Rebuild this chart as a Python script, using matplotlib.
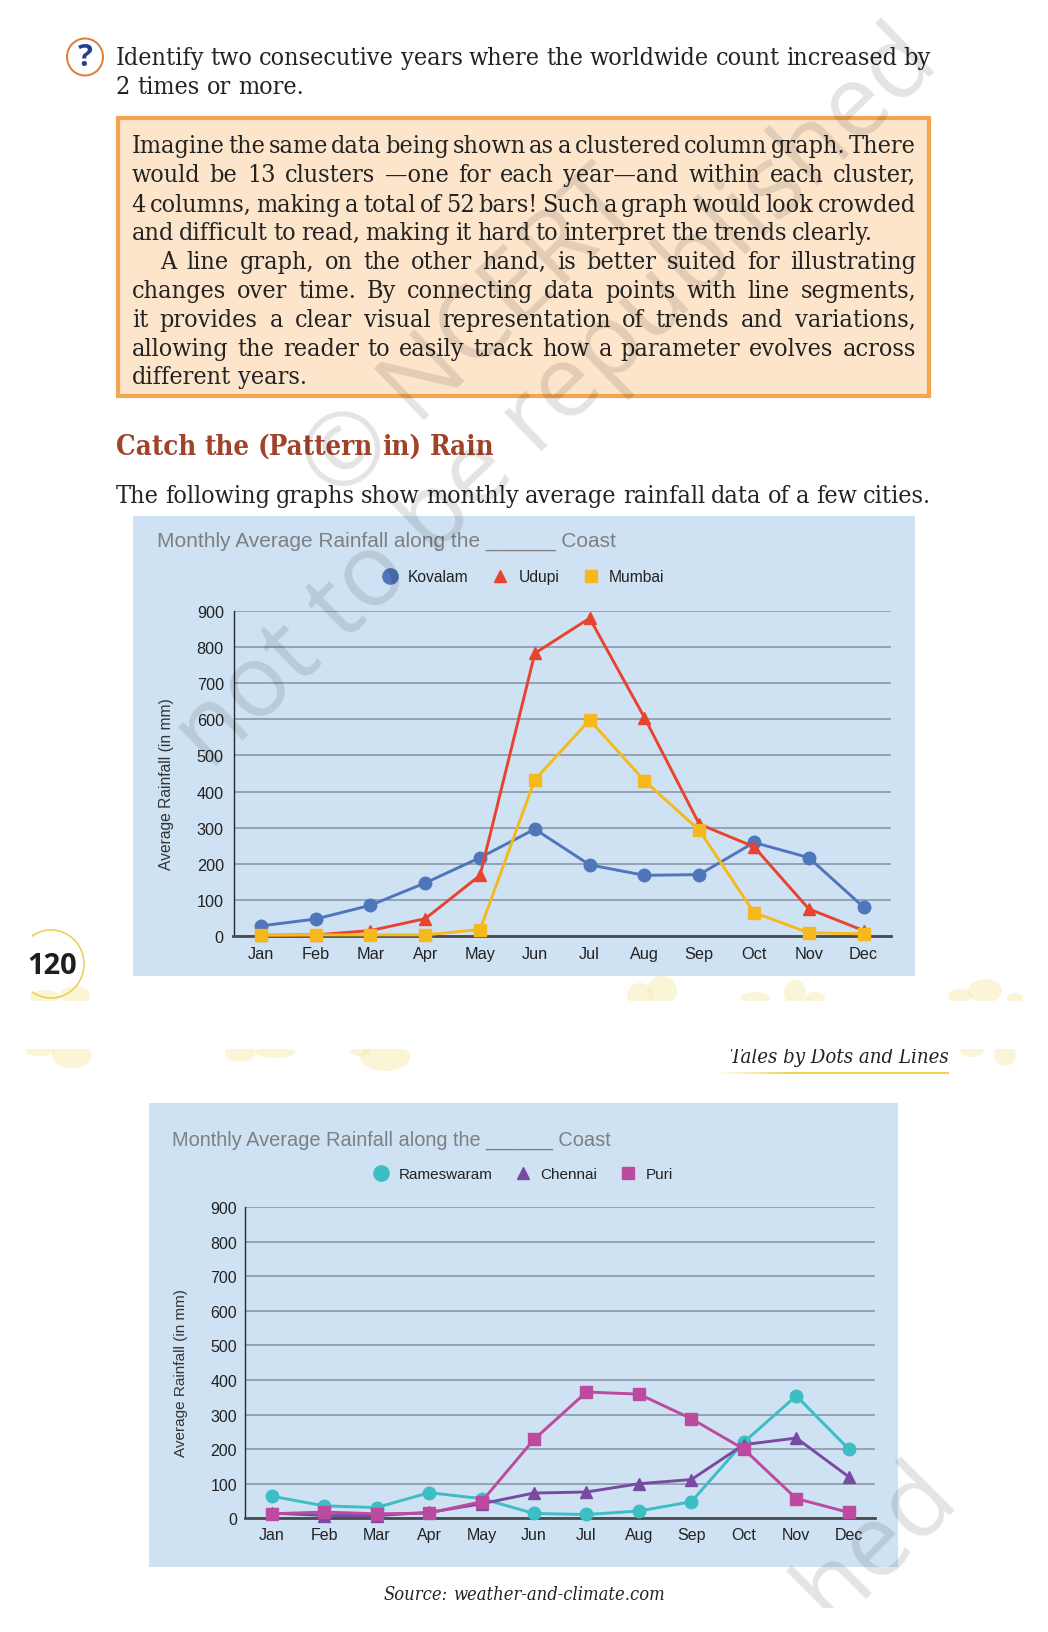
import numpy as np
import matplotlib
matplotlib.use("Agg")
import matplotlib.pyplot as plt
from matplotlib.lines import Line2D
from matplotlib.patches import Rectangle, Ellipse, Arc
from matplotlib.font_manager import FontProperties

W, H = 1048, 1633

months = ["Jan", "Feb", "Mar", "Apr", "May", "Jun", "Jul", "Aug", "Sep", "Oct", "Nov", "Dec"]
y_ticks = [0, 100, 200, 300, 400, 500, 600, 700, 800, 900]

kovalam = [28, 47, 85, 147, 217, 296, 197, 168, 170, 259, 217, 80]
udupi = [2, 3, 15, 48, 168, 783, 880, 605, 310, 247, 75, 15]
mumbai = [2, 3, 3, 3, 18, 433, 598, 430, 293, 65, 9, 6]

rameswaram = [64, 36, 31, 74, 57, 14, 11, 21, 48, 220, 354, 200]
chennai = [15, 8, 8, 17, 42, 73, 76, 100, 112, 213, 232, 120]
puri = [13, 18, 13, 15, 48, 228, 365, 359, 288, 200, 57, 17]

question = ["Identify two consecutive years where the worldwide count increased by",
            "2 times or more."]
box_lines = ["Imagine the same data being shown as a clustered column graph. There",
             "would be 13 clusters \u2014one for each year\u2014and within each cluster,",
             "4 columns, making a total of 52 bars! Such a graph would look crowded",
             "and difficult to read, making it hard to interpret the trends clearly.",
             "A line graph, on the other hand, is better suited for illustrating",
             "changes over time. By connecting data points with line segments,",
             "it provides a clear visual representation of trends and variations,",
             "allowing the reader to easily track how a parameter evolves across",
             "different years."]
box_baselines = [153, 182, 212, 240, 269, 298, 327, 356, 384]
box_right = [916, 916, 916, 873, 916, 916, 916, 916, None]

fig = plt.figure(figsize=(W / 100, H / 100), dpi=100, facecolor="white")
page = fig.add_axes([0, 0, 1, 1], zorder=0)
page.set_xlim(0, W)
page.set_ylim(H, 0)
page.axis("off")
renderer = fig.canvas.get_renderer()

SERIF = dict(family="DejaVu Serif", stretch="condensed")
BODY_PX = 25
TEXT_COL = "#222222"


def px(size):
    return size * 0.72


def put_line(text, x0, x1, y, size=BODY_PX, color=TEXT_COL, **kw):
    # word by word so that the gaps fill the line like the book does, x1=None leaves it ragged
    props = FontProperties(size=px(size), **SERIF, **kw)
    words = text.split(" ")
    widths = [renderer.get_text_width_height_descent(w, props, False)[0] for w in words]
    space = renderer.get_text_width_height_descent("n n", props, False)[0] \
        - renderer.get_text_width_height_descent("nn", props, False)[0]
    gap = (x1 - x0 - sum(widths)) / max(len(words) - 1, 1) if x1 else space
    x = x0
    for w, wd in zip(words, widths):
        page.text(x, y, w, fontproperties=props, color=color, va="baseline", ha="left")
        x += wd + gap


def draw_chart(panel, axes_box, series, title, title_xy, title_px, legend_xy, legend_px,
               ylabel_xy, tick_px, ypad, xpad):
    x0, y0, x1, y1 = panel
    page.add_patch(Rectangle((x0, y0), x1 - x0, y1 - y0, fc="#cfe2f3", ec="none", zorder=1))
    page.text(title_xy[0], title_xy[1], title, font="Liberation Sans", fontsize=px(title_px),
              color="#7d7f82", va="baseline", zorder=2)

    ax_l, ax_t, ax_r, ax_b = axes_box
    ax = fig.add_axes([ax_l / W, 1 - ax_b / H, (ax_r - ax_l) / W, (ax_b - ax_t) / H], zorder=2)
    ax.patch.set_alpha(0)
    for name, values, col, mk, ms, _ in series:
        ax.plot(months, values, color=col, lw=2.1, marker=mk, ms=ms, mec=col, mfc=col,
                clip_on=False, zorder=4, label=name)
    ax.set_xlim(-0.5, 11.5)
    ax.set_ylim(0, 900)
    ax.set_yticks(y_ticks)
    ax.grid(axis="y", color="#8f9eab", lw=1.3, zorder=1)
    ax.set_axisbelow(True)
    for s in ["top", "right"]:
        ax.spines[s].set_visible(False)
    ax.spines["left"].set_color("#26292c")
    ax.spines["left"].set_linewidth(1.0)
    ax.spines["bottom"].set_color("#474c50")
    ax.spines["bottom"].set_linewidth(2.0)
    ax.tick_params(length=0, labelsize=px(tick_px), labelcolor="#222222")
    ax.tick_params(axis="y", pad=ypad)
    ax.tick_params(axis="x", pad=xpad)
    for t in ax.get_xticklabels() + ax.get_yticklabels():
        t.set_fontfamily("Liberation Sans")
    page.text(ylabel_xy[0], ylabel_xy[1], "Average Rainfall (in mm)", font="Liberation Sans",
              fontsize=px(legend_px), color="#333333", rotation=90, ha="center", va="center", zorder=2)

    handles = [Line2D([], [], ls="none", marker=s[3], color=s[2], ms=s[5]) for s in series]
    ax.legend(handles, [s[0] for s in series], loc="center left",
              bbox_to_anchor=legend_xy, bbox_transform=page.transData, frameon=False,
              ncol=3, borderpad=0, borderaxespad=0, handlelength=1.0,
              handletextpad=0.68, columnspacing=1.5, labelcolor="#222222",
              prop=dict(family="Liberation Sans", size=px(legend_px)))
    return ax


# question mark icon and first lines
page.add_patch(Ellipse((85, 58), 36, 37, fc="white", ec="#e07b35", lw=1.4))
page.text(85, 58.5, "?", fontsize=px(31), weight="bold", color="#27408f", ha="center", va="center",
          font="Open Sans")
put_line(question[0], 115.6, 931, 65)
put_line(question[1], 115.6, None, 94)

# orange box
page.add_patch(Rectangle((117.5, 118.5), 811.5, 278, fc="#fde5cc", ec="#f4a54f", lw=3))
for i, (line, yb, right) in enumerate(zip(box_lines, box_baselines, box_right)):
    put_line(line, 160 if i == 4 else 131.7, right, yb)

put_line("Catch the (Pattern in) Rain", 115.6, None, 455, size=27.5, color="#a0432a", weight="bold")
put_line("The following graphs show monthly average rainfall data of a few cities.", 115.6, 931, 503)

draw_chart((133, 517, 915, 977), (233.5, 612, 891, 937),
           [("Kovalam", kovalam, "#4f75bb", "o", 9, 11),
            ("Udupi", udupi, "#e8432f", "^", 9, 9),
            ("Mumbai", mumbai, "#f5b91e", "s", 8, 8)],
           "Monthly Average Rainfall along the ______ Coast", (157, 547), 20.85,
           (382, 578), 15.6, (166, 784), 16.3, 7, 7)

draw_chart((149, 1104, 898, 1568), (245.4, 1208, 875, 1519.3),
           [("Rameswaram", rameswaram, "#3dbdc4", "o", 9, 11),
            ("Chennai", chennai, "#7a4aa3", "^", 9, 9),
            ("Puri", puri, "#bc4a9e", "s", 8, 8)],
           "Monthly Average Rainfall along the ______ Coast", (172, 1146), 20.05,
           (373, 1175), 15.2, (181, 1373), 16, 6, 6.5)

put_line("Source: weather-and-climate.com", 384, None, 1600, size=18.3, style="italic")

# page number
page.add_patch(Arc((51, 965), 66, 68, theta1=-125, theta2=125, color="#eecb4e", lw=1.1))
page.text(52, 967, "120", font="Open Sans", weight="bold", fontsize=px(29),
          color="#1e1e1e", ha="center", va="center")

# paint smudges at the page break
clip_a = Rectangle((0, 960), W, 42, transform=page.transData)
clip_b = Rectangle((0, 1050), W, 40, transform=page.transData)
for cx, cy, w, h in [(45, 998, 30, 14), (75, 996, 30, 18), (640, 996, 26, 24), (662, 992, 30, 30),
                     (755, 999, 30, 12), (795, 994, 22, 26), (815, 999, 20, 12),
                     (960, 997, 24, 14), (985, 992, 34, 24), (1015, 999, 16, 10)]:
    e = Ellipse((cx, cy), w, h, fc="#f8e9a8", ec="none", alpha=0.45, zorder=0.5)
    page.add_patch(e)
    e.set_clip_path(clip_a)
for cx, cy, w, h in [(40, 1052, 30, 10), (72, 1056, 40, 26), (240, 1054, 30, 18), (275, 1053, 40, 12),
                     (385, 1058, 50, 28), (360, 1052, 20, 10), (972, 1052, 24, 12), (1005, 1056, 22, 22)]:
    e = Ellipse((cx, cy), w, h, fc="#f8e9a8", ec="none", alpha=0.45, zorder=0.5)
    page.add_patch(e)
    e.set_clip_path(clip_b)

# running head with a fading rule
head = page.text(730, 1063, "Tales by Dots and Lines",
                 fontproperties=FontProperties(size=px(20.3), style="italic", **SERIF),
                 color=TEXT_COL, va="baseline")
head.set_clip_on(True)
head.set_clip_path(Rectangle((700, 1050), 300, 40, transform=page.transData))
fade = np.zeros((1, 200, 4))
fade[..., :3] = matplotlib.colors.to_rgb("#f0cf55")
fade[..., 3] = np.clip(np.linspace(0, 3, 200), 0, 1)
page.imshow(fade, extent=(715, 949, 1075, 1073), aspect="auto", zorder=1)
page.set_xlim(0, W)
page.set_ylim(H, 0)

# diagonal watermark on top of everything
over = fig.add_axes([0, 0, 1, 1], zorder=10)
over.set_xlim(0, W)
over.set_ylim(H, 0)
over.axis("off")
over.patch.set_alpha(0)
WM = dict(font="Open Sans", color="black", alpha=0.11, rotation_mode="anchor", ha="left", va="baseline")
over.text(210, 772, "not to be republished", fontsize=px(101), rotation=44, **WM)
over.text(338, 503, "\u00a9 NCERT", fontsize=px(101), rotation=44, **WM)
tail = over.text(832, 1625, "hed", fontsize=px(101), rotation=45, **WM)
tail.set_clip_on(True)
tail.set_clip_path(Rectangle((0, 1050), W, 559, transform=over.transData))

fig.savefig("out.png", dpi=100)
